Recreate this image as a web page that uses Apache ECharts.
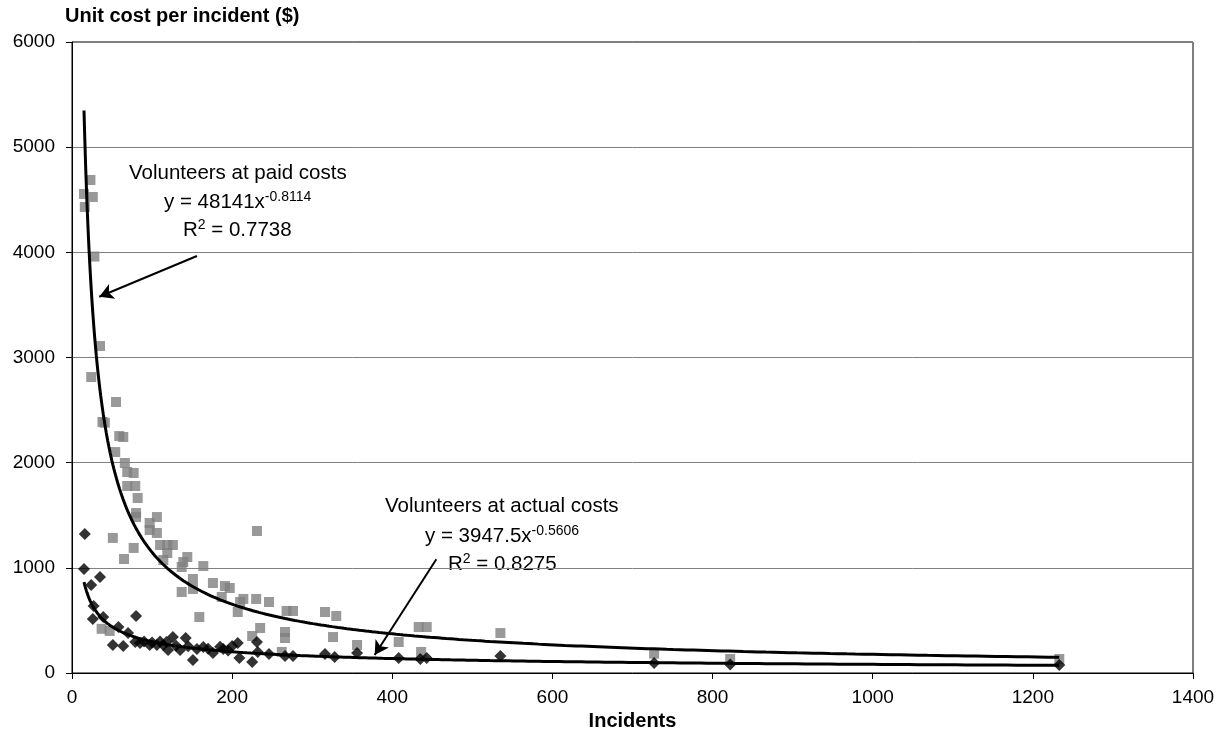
<!DOCTYPE html>
<html><head><meta charset="utf-8">
<script src="https://cdn.jsdelivr.net/npm/echarts@6/dist/echarts.min.js"></script>
<style>html,body{margin:0;padding:0;background:#fff}#c{width:1227px;height:744px}</style>
</head><body><div id="c"></div>
<script>
// Volunteers at paid costs (grey squares): incidents, unit cost
const paidX = [15,16,23,26,28,35,24,38,41,55,59,64,54,66,69,77,69,79,82,80,80,97,106,97,106,51,77,65,110,119,126,119,114,144,139,137,164,151,151,176,191,197,187,137,214,210,230,246,207,159,231,235,225,37,47,268,276,266,266,262,316,330,326,356,408,433,443,436,535,727,822,1233];
const paidY = [4555,4431,4688,4526,3960,3109,2814,2387,2380,2577,2253,2244,2101,1997,1911,1902,1778,1778,1664,1521,1483,1426,1483,1360,1331,1284,1189,1084,1217,1217,1217,1141,1074,1103,1055,1008,1017,894,799,856,827,808,723,770,704,675,704,675,580,532,1350,428,352,420,400,590,590,390,333,200,580,542,342,266,295,437,437,200,380,184,133,133];
// Volunteers at actual costs (black diamonds)
const actualX = [16,15,35,24,27,26,39,80,58,70,51,64,79,85,97,106,114,118,126,120,135,142,151,156,164,176,189,200,207,209,225,231,232,246,266,276,316,328,356,408,435,443,535,727,822,1233,90,100,110,130,145,170,185,195];
const actualY = [1322,989,913,837,637,513,532,542,437,380,266,257,295,285,266,266,266,295,342,219,219,333,124,228,247,190,228,257,285,143,105,295,200,181,162,162,181,152,190,143,133,143,162,95,80,76,300,290,300,260,255,230,250,215];
// Power trendlines shown on the chart: y = a * x^b
const paidFit = {a: 48141, b: -0.8114, r2: '0.7738'};
const actualFit = {a: 3947.5, b: -0.5606, r2: '0.8275'};
const xAxisMin = 0, xAxisMax = 1400, xAxisStep = 200;
const yAxisMin = 0, yAxisMax = 6000, yAxisStep = 1000;

function trend(xs, fit) {
  const lo = Math.min.apply(null, xs), hi = Math.max.apply(null, xs);
  const pts = [], n = 400;
  for (let i = 0; i <= n; i++) {
    const x = lo * Math.pow(hi / lo, i / n);
    pts.push([x, fit.a * Math.pow(x, fit.b)]);
  }
  return pts;
}
const zip = (a, b) => a.map((v, i) => [v, b[i]]);
const FONT = '"Liberation Sans", Arial, sans-serif';

const chart = echarts.init(document.getElementById('c'), null, {renderer: 'canvas'});
const rich = {
  n: {fontSize: 20.5, fontFamily: FONT, color: '#000', lineHeight: 24},
  s: {fontSize: 14, fontFamily: FONT, color: '#000', verticalAlign: 'top', lineHeight: 15}
};
function txt(x, y, text) {
  return {type: 'text', x: x, y: y, silent: true,
    style: {text: text, rich: rich, align: 'left', verticalAlign: 'middle', fill: '#000', font: '20px ' + FONT}};
}
chart.setOption({
  animation: false,
  backgroundColor: '#fff',
  title: {text: 'Unit cost per incident ($)', left: 65, top: 6, padding: 0,
    textStyle: {fontFamily: FONT, fontSize: 20, fontWeight: 'bold', color: '#000'}},
  grid: {left: 72, right: 34, top: 42, bottom: 71, show: true, borderColor: '#000', borderWidth: 1, backgroundColor: 'transparent'},
  xAxis: {
    type: 'value', min: xAxisMin, max: xAxisMax, interval: xAxisStep,
    name: 'Incidents', nameLocation: 'middle', nameGap: 31,
    nameTextStyle: {fontFamily: FONT, fontSize: 20, fontWeight: 'bold', color: '#000'},
    axisLine: {show: true, onZero: false, lineStyle: {color: '#000', width: 1}},
    axisTick: {show: true, length: 6, lineStyle: {color: '#000'}},
    axisLabel: {fontFamily: FONT, fontSize: 19, color: '#000', margin: 15, formatter: v => String(v)},
    splitLine: {show: false}
  },
  yAxis: {
    type: 'value', min: yAxisMin, max: yAxisMax, interval: yAxisStep,
    axisLine: {show: true, lineStyle: {color: '#000', width: 1}},
    axisTick: {show: true, length: 6, lineStyle: {color: '#000'}},
    axisLabel: {fontFamily: FONT, fontSize: 19, color: '#000', margin: 17, formatter: v => String(v)},
    splitLine: {show: true, lineStyle: {color: '#808080', width: 1}}
  },
  series: [
    {name: 'Volunteers at paid costs', type: 'scatter', symbol: 'rect', symbolSize: 10,
     itemStyle: {color: '#808080'}, data: zip(paidX, paidY), z: 2},
    {name: 'Volunteers at actual costs', type: 'scatter', symbol: 'diamond', symbolSize: 12,
     itemStyle: {color: '#000'}, data: zip(actualX, actualY), z: 3},
    {name: 'Paid trend', type: 'line', showSymbol: false, symbol: 'none', data: trend(paidX, paidFit),
     lineStyle: {color: '#000', width: 3}, z: 4, silent: true,
     markLine: {silent: true, symbol: ['none', 'arrow'], symbolSize: [12, 14], label: {show: false},
       lineStyle: {color: '#000', width: 2, type: 'solid'},
       data: [[{coord: [156, 3965]}, {coord: [34, 3578]}]]}},
    {name: 'Actual trend', type: 'line', showSymbol: false, symbol: 'none', data: trend(actualX, actualFit),
     lineStyle: {color: '#000', width: 3}, z: 4, silent: true,
     markLine: {silent: true, symbol: ['none', 'arrow'], symbolSize: [12, 14], label: {show: false},
       lineStyle: {color: '#000', width: 2, type: 'solid'},
       data: [[{coord: [455, 1081]}, {coord: [378, 171]}]]}}
  ],
  graphic: [
    txt(129, 173, '{n|Volunteers at paid costs}'),
    txt(164, 202, '{n|y = ' + paidFit.a + 'x}{s|' + paidFit.b + '}'),
    txt(183, 230, '{n|R}{s|2}{n| = ' + paidFit.r2 + '}'),
    txt(385, 506, '{n|Volunteers at actual costs}'),
    txt(425, 536, '{n|y = ' + actualFit.a + 'x}{s|' + actualFit.b + '}'),
    txt(448, 564, '{n|R}{s|2}{n| = ' + actualFit.r2 + '}')
  ]
});
</script></body></html>
